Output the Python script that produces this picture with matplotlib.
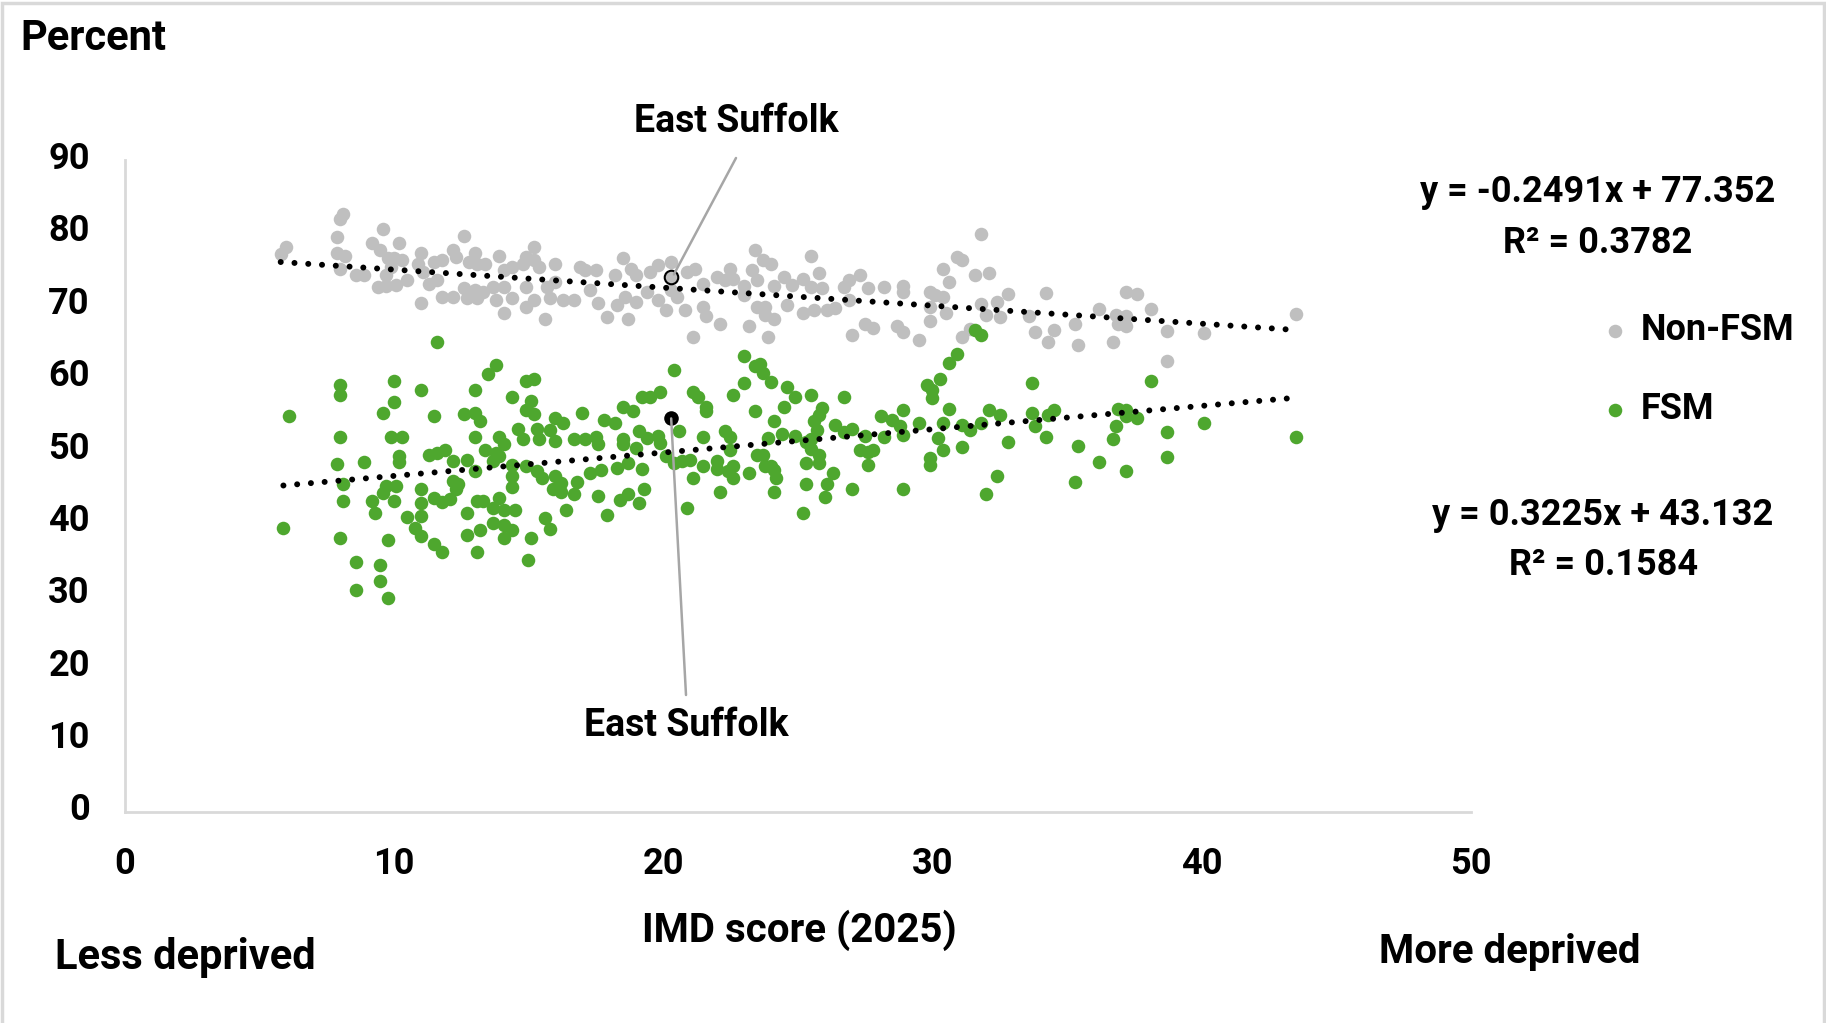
import matplotlib
matplotlib.use("Agg")
import numpy as np
import matplotlib.pyplot as plt
from matplotlib.patches import Rectangle
from matplotlib.transforms import ScaledTranslation

plt.rcParams['font.family'] = ['Roboto', 'DejaVu Sans']
plt.rcParams['font.weight'] = 'bold'

## Non-FSM pupils: IMD score (2025) and percent
nonfsm_imd = [8.1, 8.0, 7.9, 6.0, 5.8, 7.9, 8.2, 8.0, 8.6, 8.9, 9.6, 9.2, 9.5, 9.8, 10.2, 10.0,
              10.3, 9.9, 9.7, 9.4, 9.7, 10.1, 10.5, 11.0, 10.9, 11.1, 11.3, 11.6, 11.0, 11.5, 11.8,
              12.2, 12.3, 12.6, 11.8, 12.2, 12.6, 12.7, 12.8, 13.0, 13.1, 13.4, 13.0, 13.3, 13.1,
              13.8, 13.7, 13.9, 14.1, 14.4, 14.8, 14.9, 15.2, 15.2, 14.1, 14.1, 14.4, 14.9, 14.9,
              15.2, 15.4, 15.7, 15.8, 16.0, 16.0, 16.3, 16.7, 15.6, 16.9, 17.1, 17.5, 17.3, 17.6,
              17.9, 18.2, 18.3, 18.5, 18.7,
              18.8, 19.0, 19.5, 19.8, 20.3, 20.9, 21.2, 21.5, 18.6, 19.0, 19.4, 20.1, 19.8, 20.5,
              20.8, 20.3, 21.1, 21.5, 21.6, 22.1, 22.0, 22.3, 22.5, 22.6, 23.0, 23.0, 23.4, 23.7,
              24.0, 23.3, 23.5, 23.2, 23.5, 23.8, 24.1, 23.8, 24.1, 24.5, 24.6, 23.9, 24.8, 25.2,
              25.5, 25.8, 25.2, 25.5, 25.9, 25.6, 26.1, 26.4, 26.7, 26.9, 27.3, 26.9, 27.6, 27.0,
              27.5, 27.8, 28.2, 28.9, 28.9, 28.7, 28.9, 29.5, 29.9, 30.4, 30.6, 30.1, 30.4, 29.9,
              30.5, 29.9, 30.9, 31.1, 31.1, 31.4,
              31.8, 31.6, 32.1, 32.8, 32.4, 31.8, 32.0, 32.5, 34.2, 33.6, 33.8, 34.5, 34.3, 35.3,
              35.4, 36.2, 36.7, 36.8, 36.9, 37.2, 37.2, 37.2, 37.6, 38.1, 38.7, 38.7, 40.1, 43.5]
nonfsm_pct = [82.6, 81.9, 79.3, 78.0, 77.0, 77.1, 76.7, 75.0, 74.1, 74.1, 80.5, 78.5, 77.5, 76.4,
              78.5, 76.4, 76.2, 75.2, 74.1, 72.5, 72.6, 72.7, 73.4, 77.1, 75.7, 74.5, 72.9, 73.4,
              70.3, 75.9, 76.2, 77.5, 76.6, 79.5, 71.1, 71.1, 72.3, 70.9, 75.9, 77.1, 75.7, 75.7,
              72.0, 71.8, 70.9, 70.6, 72.5, 76.8, 74.8, 75.2, 75.7, 76.6, 78.0, 76.2, 68.9, 72.5,
              70.9, 72.5, 69.7, 70.6, 75.2, 72.5, 70.9, 75.7, 73.2, 70.6, 70.6, 68.0, 75.2, 74.8,
              74.8, 72.0, 70.2, 68.3, 74.1, 70.0, 76.4, 68.1,
              75.0, 74.1, 74.5, 75.5, 75.9, 74.5, 75.0, 72.9, 71.1, 70.4, 71.8, 69.3, 70.6, 71.1,
              69.3, 72.0, 65.5, 69.7, 68.4, 67.3, 73.9, 73.4, 75.0, 73.6, 72.6, 71.3, 77.5, 76.2,
              75.7, 74.8, 73.4, 67.1, 69.7, 69.7, 72.6, 68.6, 68.1, 73.9, 70.0, 65.5, 72.7, 73.6,
              76.7, 74.4, 68.8, 72.5, 72.3, 69.3, 69.3, 69.5, 72.5, 73.4, 74.1, 70.6, 72.3, 65.8,
              67.4, 66.8, 72.5, 72.6, 71.8, 67.0, 66.3, 65.1, 71.8, 75.0, 73.2, 71.3, 71.1, 69.7,
              68.8, 67.7, 76.6, 76.2, 65.6, 66.7,
              79.8, 74.1, 74.4, 71.5, 70.4, 70.1, 68.6, 68.3, 71.6, 68.4, 66.2, 66.5, 64.8, 67.3,
              64.5, 69.4, 64.9, 68.6, 67.4, 68.4, 67.1, 71.8, 71.5, 69.4, 66.4, 62.3, 66.1, 68.7]

## FSM pupils: IMD score (2025) and percent
fsm_imd = [11.6, 13.8, 13.5, 8.0, 8.0, 10.0, 10.0, 11.0, 13.0, 14.9, 15.2, 14.4, 15.1, 14.9, 15.2,
           6.1, 9.6, 11.5, 12.6, 13.0, 13.2, 16.0, 16.3, 17.0, 17.8, 18.2, 18.5, 8.0, 9.9, 10.3,
           13.0, 13.9, 14.6, 14.8, 15.3, 15.4, 15.8, 16.0, 16.7, 17.1, 17.5, 17.6, 18.5, 18.5,
           13.4, 13.8, 14.1, 13.9, 10.2, 10.2, 11.3, 11.6, 11.9, 12.2, 12.7, 13.0, 13.7, 7.9, 8.9,
           14.4, 14.9, 15.3, 15.5, 16.0, 16.2, 15.9, 16.2, 16.8, 16.7, 17.3, 17.7, 18.3, 18.7,
           14.4, 14.4, 8.1, 9.7, 10.1, 9.6, 11.0, 12.2, 12.4, 12.3, 8.1, 9.2, 10.0, 11.0, 11.5,
           11.8, 12.1, 13.1, 13.3, 13.9, 13.7, 14.1, 14.5, 9.3, 10.5, 11.0, 12.7, 17.6, 17.9,
           18.4, 18.7, 16.4, 5.9, 10.8, 11.0, 13.2, 13.7, 14.1, 14.4, 14.1, 12.7, 15.6, 15.8,
           15.1, 8.0, 9.8, 11.5, 11.8, 13.1, 15.0, 8.6, 9.5, 8.6, 9.5, 9.8,
           23.0, 20.4, 23.4, 23.6, 23.7, 24.0, 23.0, 24.6, 24.9, 25.5, 26.7, 30.3, 30.6, 30.9,
           29.8, 30.0, 30.0, 30.6, 28.9, 28.1, 28.5, 28.8, 29.5, 30.4, 31.1, 28.9, 28.2, 27.5,
           27.0, 26.7, 26.4, 25.9, 25.8, 25.6, 25.7, 25.5, 25.3, 24.4, 24.9, 23.9, 24.1, 24.5,
           23.4, 22.6, 21.1, 21.3, 21.6, 21.6, 19.9, 19.5, 19.2, 18.9,
           19.1, 19.4, 19.8, 19.9, 20.6, 21.5, 22.3, 22.5, 22.5, 19.0, 19.2, 20.1, 20.4, 20.7,
           21.0, 21.5, 22.0, 22.0, 22.6, 22.4, 22.6, 23.2, 21.1, 23.5, 23.7, 23.8, 24.0, 24.1,
           24.2, 25.3, 25.8, 25.8, 25.5, 26.3, 26.1, 26.0, 25.3, 27.0, 27.3, 27.6, 27.8, 27.6,
           28.9, 29.9, 29.9, 30.2, 30.4, 31.1, 19.3, 19.1, 22.1, 24.1, 20.9, 25.2,
           31.8, 31.6, 33.7, 38.1, 32.1, 32.5, 31.4, 31.8, 33.7, 33.8, 34.3, 34.5, 36.9, 37.2,
           37.2, 37.6, 36.8, 36.7, 38.7, 38.7, 40.1, 43.5, 32.8, 34.2, 35.4, 36.2, 37.2, 35.3,
           32.4, 32.0]
fsm_pct = [64.8, 61.7, 60.4, 58.9, 57.6, 59.5, 56.6, 58.2, 58.2, 59.5, 59.8, 57.2, 56.7, 55.4, 54.9,
           54.7, 55.0, 54.7, 54.9, 55.1, 54.0, 54.4, 53.7, 55.0, 54.1, 53.7, 55.9, 51.8, 51.8, 51.8,
           51.8, 51.8, 52.8, 51.5, 52.8, 51.5, 52.7, 51.2, 51.4, 51.4, 51.8, 50.7, 51.4, 50.7,
           50.0, 49.5, 50.7, 49.1, 49.1, 48.3, 49.2, 49.5, 50.0, 48.4, 48.5, 47.0, 48.4, 48.0, 48.3,
           47.8, 47.7, 47.0, 46.1, 46.3, 45.4, 44.5, 44.1, 45.5, 43.9, 46.8, 47.2, 47.4, 48.2,
           46.3, 44.8, 45.2, 44.9, 44.9, 44.0, 44.5, 45.6, 45.3, 44.5, 42.9, 42.9, 42.9, 42.6, 43.3,
           42.7, 43.2, 42.9, 42.9, 43.3, 41.9, 41.7, 41.6, 41.3, 40.7, 40.8, 41.3, 43.6, 41.0,
           43.1, 43.8, 41.6, 39.1, 39.1, 38.1, 38.9, 39.8, 39.6, 38.9, 37.8, 38.2, 40.5, 39.0,
           37.8, 37.8, 37.5, 36.9, 35.9, 35.9, 34.7, 34.4, 34.0, 30.6, 31.8, 29.5,
           62.9, 61.0, 61.5, 61.8, 60.6, 59.4, 59.2, 58.6, 57.2, 57.6, 57.2, 59.7, 61.9, 63.2,
           58.9, 58.2, 57.1, 55.6, 55.4, 54.7, 54.1, 53.2, 53.7, 53.7, 53.4, 52.0, 51.7, 51.9,
           52.8, 52.4, 53.4, 55.7, 54.8, 53.9, 52.7, 51.4, 51.1, 52.1, 51.9, 51.6, 54.0, 55.9,
           55.3, 57.6, 58.0, 57.3, 55.9, 55.3, 57.9, 57.2, 57.2, 55.3,
           52.5, 51.6, 51.9, 50.9, 52.5, 51.8, 52.6, 51.7, 50.0, 50.2, 47.3, 49.1, 48.1, 48.4,
           48.6, 47.7, 48.4, 47.3, 47.7, 47.0, 46.1, 46.7, 46.1, 49.2, 49.2, 47.7, 47.7, 47.2,
           46.1, 48.2, 48.2, 49.3, 50.1, 46.7, 45.2, 43.5, 45.2, 44.5, 50.0, 49.6, 50.0, 47.9,
           44.5, 48.8, 47.9, 51.6, 50.0, 50.3, 44.5, 42.6, 44.2, 44.2, 41.9, 41.3,
           65.8, 66.5, 59.2, 59.5, 55.4, 54.8, 52.7, 53.7, 55.0, 53.3, 54.8, 55.4, 55.6, 55.4,
           54.7, 54.3, 53.3, 51.5, 52.4, 49.0, 53.7, 51.8, 51.1, 51.8, 50.5, 48.3, 47.0, 45.5,
           46.4, 43.9]

## East Suffolk
es_imd = 20.3
es_nonfsm = 73.8
es_fsm = 54.3

## Excel trendlines
nonfsm_slope, nonfsm_icpt, nonfsm_r2 = -0.2491, 77.352, 0.3782
fsm_slope, fsm_icpt, fsm_r2 = 0.3225, 43.132, 0.1584

GREY = '#BFBFBF'
GREEN = '#4EA72E'

fig = plt.figure(figsize=(18.26, 10.23), dpi=100)
ax = fig.add_axes([124.5 / 1826, 1 - 811.5 / 1023, 1346.5 / 1826, 651.5 / 1023])

ax.scatter(nonfsm_imd, nonfsm_pct, s=95, color=GREY, linewidths=0, label='Non-FSM', zorder=3)
ax.scatter(fsm_imd, fsm_pct, s=95, color=GREEN, linewidths=0, label='FSM', zorder=3)

# trend lines over the data range
for xs, m, c in [(nonfsm_imd, nonfsm_slope, nonfsm_icpt), (fsm_imd, fsm_slope, fsm_icpt)]:
    xx = np.array([min(xs), max(xs)])
    ax.plot(xx, m * xx + c, color='black', lw=4.3, linestyle=(0, (0.01, 2.3)),
            dash_capstyle='round', zorder=4)

# East Suffolk points
ax.scatter([es_imd], [es_nonfsm], s=95, color=GREY, edgecolors='black', linewidths=1.5, zorder=5)
ax.scatter([es_imd], [es_fsm], s=110, color='black', linewidths=0, zorder=5)

ax.annotate('', xy=(es_imd + 0.1, es_nonfsm + 0.4), xytext=(736, 1023 - 158),
            textcoords='figure pixels',
            arrowprops=dict(arrowstyle='-', color='#A6A6A6', lw=1.8, shrinkA=0, shrinkB=0), zorder=6)
ax.annotate('', xy=(es_imd, es_fsm), xytext=(686, 1023 - 695),
            textcoords='figure pixels',
            arrowprops=dict(arrowstyle='-', color='#A6A6A6', lw=1.8, shrinkA=0, shrinkB=0), zorder=6)
fig.text(736 / 1826, 1 - 122 / 1023, 'East Suffolk', ha='center', va='center', fontsize=27)
fig.text(686 / 1826, 1 - 725 / 1023, 'East Suffolk', ha='center', va='center', fontsize=27)

ax.set_xlim(0, 50)
ax.set_ylim(0, 90)
ax.set_xticks(range(0, 51, 10))
ax.set_yticks(range(0, 91, 10))
ax.tick_params(length=0, labelsize=26)
ax.tick_params(axis='y', pad=25)
ax.tick_params(axis='x', pad=25)
for lab in ax.get_yticklabels():
    lab.set_transform(lab.get_transform() + ScaledTranslation(0, 5 / 100, fig.dpi_scale_trans))
for side in ['top', 'right']:
    ax.spines[side].set_visible(False)
for side in ['left', 'bottom']:
    ax.spines[side].set_color('#D9D9D9')
    ax.spines[side].set_linewidth(2)

fig.text(20 / 1826, 1 - 39 / 1023, 'Percent', ha='left', va='center', fontsize=30)
fig.text(799 / 1826, 1 - 930 / 1023, 'IMD score (2025)', ha='center', va='center', fontsize=29)
fig.text(55 / 1826, 1 - 958 / 1023, 'Less deprived', ha='left', va='center', fontsize=30)
fig.text(1379 / 1826, 1 - 952 / 1023, 'More deprived', ha='left', va='center', fontsize=29)

fig.text(1598 / 1826, 1 - 192 / 1023, f'y = {nonfsm_slope}x + {nonfsm_icpt}',
         ha='center', va='center', fontsize=26)
fig.text(1598 / 1826, 1 - 243 / 1023, f'R\u00b2 = {nonfsm_r2}', ha='center', va='center', fontsize=26)
fig.text(1603 / 1826, 1 - 515 / 1023, f'y = {fsm_slope}x + {fsm_icpt}',
         ha='center', va='center', fontsize=26)
fig.text(1604 / 1826, 1 - 565 / 1023, f'R\u00b2 = {fsm_r2}', ha='center', va='center', fontsize=26)

leg = ax.legend(loc='upper left', bbox_to_anchor=(1606 / 1826, 1 - 312 / 1023),
                bbox_transform=fig.transFigure, frameon=False, fontsize=26,
                handlelength=0.5, handletextpad=0.45, labelspacing=1.2, markerscale=1.0,
                borderaxespad=0, borderpad=0)

fig.add_artist(Rectangle((0.001, -0.01), 0.998, 1.007, transform=fig.transFigure,
                         fill=False, edgecolor='#D9D9D9', lw=2.5))

fig.savefig('out.png', dpi=100)
